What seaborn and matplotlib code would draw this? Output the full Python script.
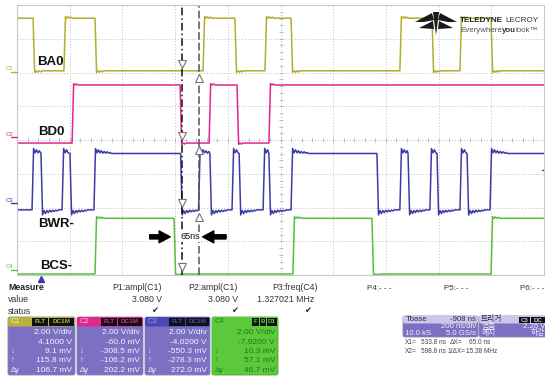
import numpy as np
import pandas as pd
import matplotlib
matplotlib.use("Agg")
import matplotlib.pyplot as plt
import seaborn as sns
from matplotlib.patches import FancyBboxPatch, Polygon, Rectangle

W, H = 545, 377
T_LEFT, T_RIGHT = -91.0, 1909.0      # ns, 200 ns/div, 10 div
NS_PER_DIV = 200.0

channels = ["C1", "C2", "C3", "C4"]
names = {"C1": "BA0", "C2": "BD0", "C3": "BWR-", "C4": "BCS-"}
colors = {"C1": "#b3ae2e", "C2": "#e0288c", "C3": "#3b3ba8", "C4": "#58bf42"}

# edge times (ns)
c1_edges = [-30, 87, 205, 615, 736, 850, 949, 1362, 1484, 1590, 1708]
c2_edges = [118, 528, 638, 744, 865]
c3_edges = [-34, 0, 80, 110, 201, 530, 598, 641, 725, 752, 843, 865,
            949, 1275, 1362, 1393, 1476, 1503, 1590, 1617, 1704]
c4_edges = [205, 505, 956, 1256, 1708]
edges = {"C1": c1_edges, "C2": c2_edges, "C3": c3_edges, "C4": c4_edges}
start_high = {"C1": True, "C2": False, "C3": False, "C4": False}
# low / high level in screen divisions (0 = bottom, 8 = top)
levels = {"C1": (6.05, 7.61), "C2": (3.91, 5.63), "C3": (1.93, 3.60), "C4": (0.03, 1.68)}
# overshoot / ringing after an edge (divisions)
ringing = {"C1": [0.05, 0.0, 0.04, 0.0, 0.03, 0.0],
           "C2": [0.04, 0.0, 0.03, 0.0],
           "C3": [0.15, 0.02, 0.11, 0.02, 0.08, 0.01, 0.06, 0.01, 0.05, 0.01, 0.03, 0.0],
           "C4": [0.05, 0.0, 0.04, 0.0, 0.03, 0.0]}

cursor_x1, cursor_x2 = 533.8, 598.8
trigger_level_c3 = 3.12

meas_names = ["P1:ampl(C1)", "P2:ampl(C1)", "P3:freq(C4)", "P4:- - -", "P5:- - -", "P6:- - -"]
meas_values = ["3.080 V", "3.080 V", "1.327021 MHz", "", "", ""]
meas_status = ["\u2714", "\u2714", "\u2714", "", "", ""]

ch_vdiv = ["2.00 V/div"] * 4
ch_offset = ["4.1000 V", "-60.0 mV", "-4.0200 V", "-7.9200 V"]
ch_min = ["9.1 mV", "-308.5 mV", "-550.3 mV", "10.3 mV"]
ch_max = ["115.8 mV", "-106.2 mV", "-278.3 mV", "57.1 mV"]
ch_dy = ["106.7 mV", "202.2 mV", "272.0 mV", "46.7 mV"]


def wave(ch, rise=6.0, ring_dt=5.5):
    bounds = [T_LEFT] + list(edges[ch]) + [T_RIGHT]
    lo, hi = levels[ch]
    ring = ringing[ch]
    state = start_high[ch]
    ts, vs = [], []
    for k in range(len(bounds) - 1):
        a, b = bounds[k], bounds[k + 1]
        lvl = hi if state else lo
        sgn = 1 if state else -1
        s = a + (rise if k > 0 else 0.0)
        if k > 0:
            for j, r in enumerate(ring):
                t = s + j * ring_dt
                if t >= b - 2:
                    break
                ts.append(t); vs.append(lvl + sgn * r)
        else:
            ts.append(s); vs.append(lvl)
        ts.append(b); vs.append(lvl)
        state = not state
    return ts, vs


frames = []
for ch in channels:
    t, v = wave(ch)
    frames.append(pd.DataFrame({"t": t, "v": v, "ch": ch}))
df = pd.concat(frames, ignore_index=True)

sns.set_style("white")
plt.rcParams["font.family"] = ["Liberation Sans", "DejaVu Sans", "Noto Sans CJK KR"]

fig = plt.figure(figsize=(W / 100, H / 100), dpi=100)
fig.patch.set_facecolor("white")
ax = fig.add_axes([17 / W, 1 - 275 / H, 527 / W, 270 / H])
ax.set_xlim(T_LEFT, T_RIGHT)
ax.set_ylim(0, 8)

# grid
xt = [T_LEFT + NS_PER_DIV * k for k in range(11)]
ax.set_xticks(xt)
ax.set_yticks(range(9))
ax.tick_params(length=0, labelbottom=False, labelleft=False)
ax.grid(True, color="#bcbcbc", ls=(0, (1, 2)), lw=0.7)
for s in ax.spines.values():
    s.set_color("#c8c8c8"); s.set_linewidth(0.8)
cx = T_LEFT + 5 * NS_PER_DIV
ax.plot([cx] * 41, [0.2 * k for k in range(41)], ls="none", marker="_", ms=3, mew=0.6, color="#b4b4b4")
ax.plot([T_LEFT + 40 * k for k in range(51)], [4] * 51, ls="none", marker="|", ms=3, mew=0.6, color="#b4b4b4")

sns.lineplot(data=df, x="t", y="v", hue="ch", palette=colors, sort=False,
             estimator=None, legend=False, lw=1.1, ax=ax)
ax.set_xlabel(""); ax.set_ylabel("")

# cursors
ax.axvline(cursor_x1, color="#111111", ls=(0, (5, 2, 1, 2)), lw=1.1)
ax.axvline(cursor_x2, color="#555555", ls=(0, (5, 2)), lw=1.1)
lows = [levels[c][0] for c in channels]
ax.plot([cursor_x1] * 4, [l + 0.2 for l in lows], ls="none", marker="v", ms=5.5,
        mfc="white", mec="#777777", mew=0.8)
ax.plot([cursor_x2] * 4, [l - 0.2 for l in lows], ls="none", marker="^", ms=5.5,
        mfc="white", mec="#777777", mew=0.8)
ax.plot([T_RIGHT - 8, T_RIGHT], [trigger_level_c3] * 2, color=colors["C3"], lw=1.0, clip_on=False)

# 65 ns annotation
arrow_style = "simple,head_length=0.8,head_width=0.85,tail_width=0.3"
ax.annotate("", xy=(501, 1.13), xytext=(402, 1.13),
            arrowprops=dict(arrowstyle=arrow_style, fc="black", ec="black", mutation_scale=10))
ax.annotate("", xy=(603, 1.13), xytext=(713, 1.13),
            arrowprops=dict(arrowstyle=arrow_style, fc="black", ec="black", mutation_scale=10))
ax.text(566, 1.13, "65ns", ha="center", va="center", fontsize=6.5, color="#111111",
        bbox=dict(fc="white", ec="none", pad=0.3), zorder=6)

# overlay in pixel coordinates
ov = fig.add_axes([0, 0, 1, 1])
ov.set_xlim(0, W); ov.set_ylim(H, 0)
ov.axis("off"); ov.patch.set_alpha(0); ov.set_zorder(5)


def txt(x, y, s, ha="left", size=6.3, color="#333333", weight="normal", family=None):
    kw = {}
    if family:
        kw["family"] = family
    return ov.text(x, y, s, ha=ha, va="center", fontsize=size, color=color, fontweight=weight, **kw)


def chain(prev, s, size, color, weight="normal", gap=0):
    return ov.annotate(s, xy=(1, 0.5), xycoords=prev, xytext=(gap, 0), textcoords="offset points",
                       ha="left", va="center", fontsize=size, color=color, fontweight=weight)


# signal labels
label_pos = {"C1": (37, 62), "C2": (38, 132), "C3": (38, 224), "C4": (40, 266)}
for ch in channels:
    x, y = label_pos[ch]
    txt(x, y, names[ch], size=9.5, color="#111111", weight="bold")
marker_y = {"C1": 72, "C2": 137, "C3": 203, "C4": 270}
for ch in channels:
    y = marker_y[ch]
    txt(6, y - 3, ch, size=4.3, color=colors[ch])
    ov.plot([11, 17], [y, y], color=colors[ch], lw=1.0)
ov.plot([41], [279], marker="^", ms=4, color=colors["C3"], ls="none")

# logo
logo = "#1a1a1a"
ov.add_patch(Polygon([(415, 22), (432, 13), (434, 20), (424, 22)], closed=True, fc=logo, ec="none"))
ov.add_patch(Polygon([(419, 28), (433, 21), (434, 29)], closed=True, fc=logo, ec="none"))
ov.add_patch(Polygon([(457, 22), (440, 13), (438, 20), (448, 22)], closed=True, fc=logo, ec="none"))
ov.add_patch(Polygon([(453, 28), (439, 21), (438, 29)], closed=True, fc=logo, ec="none"))
ov.add_patch(Polygon([(433, 12), (439, 12), (436, 35)], closed=True, fc=logo, ec="none"))
t1 = txt(460, 21, "TELEDYNE", size=5.9, color="#222222", weight="bold")
chain(t1, "LECROY", 5.9, "#333333", gap=1.5)
t2 = txt(460, 30, "Everywhere", size=5.7, color="#555555")
t3 = chain(t2, "you", 5.7, "#333333", weight="bold")
chain(t3, "look\u2122", 5.7, "#555555")

# measure table
txt(8, 288, "Measure", size=6.3, color="#222222", weight="bold")
txt(8, 300, "value", size=6.3, color="#333333")
txt(8, 311, "status", size=6.3, color="#333333")
meas_right = [162, 238, 318]
val_right = [162, 238, 314]
stat_x = [155, 235, 308]
for i in range(3):
    txt(meas_right[i], 288, meas_names[i], ha="right", size=6.3)
    txt(val_right[i], 300, meas_values[i], ha="right", size=6.3)
    txt(stat_x[i], 311, meas_status[i], ha="center", size=6.0, color="#222222", family=["DejaVu Sans"])
for i, x in zip(range(3, 6), [367, 444, 520]):
    txt(x, 288, meas_names[i], size=5.8)

# channel boxes
box_x = [(8, 75), (77, 143), (145, 210), (212, 278)]
head_col = {"C1": "#b7b23a", "C2": "#e0288c", "C3": "#4848b6", "C4": "#5cc83c"}
head_txt = {"C1": "#eeeec0", "C2": "#f6c0dc", "C3": "#9c9ce0", "C4": "#2a7a2a"}
body_col = {"C1": "#7b70c2", "C2": "#7b70c2", "C3": "#7b70c2", "C4": "#5cc83c"}
body_txt = {"C1": "#f2f2ff", "C2": "#f2f2ff", "C3": "#f2f2ff", "C4": "#1c7a1c"}
for i, ch in enumerate(channels):
    x0, x1 = box_x[i]
    ov.add_patch(FancyBboxPatch((x0, 317), x1 - x0, 58, boxstyle="round,pad=0,rounding_size=2",
                                fc=body_col[ch], ec="#8a84b0" if ch != "C4" else "#4aa830", lw=0.6))
    ov.add_patch(FancyBboxPatch((x0, 317), x1 - x0, 9.5, boxstyle="round,pad=0,rounding_size=2",
                                fc=head_col[ch], ec="none"))
    txt(x0 + 3, 321.5, ch, size=5.5, color=head_txt[ch])
    if ch != "C4":
        tags = [("FLT", x0 + 24, x0 + 40), ("DC1M", x0 + 41, x1 - 1)]
    else:
        tags = [("F", x0 + 40, x0 + 47), ("B", x0 + 47.5, x0 + 54), ("D1", x0 + 54.5, x1 - 1)]
    for lab, a, b in tags:
        ov.add_patch(Rectangle((a, 318), b - a, 7.5, fc="#111111", ec="none"))
        ov.text((a + b) / 2, 321.8, lab, ha="center", va="center", fontsize=4.6,
                color=head_col[ch], fontweight="bold")
    rows = [ch_vdiv[i], ch_offset[i], ch_min[i], ch_max[i], ch_dy[i]]
    for r, y in zip(rows, [332.5, 342, 351.5, 361, 370.5]):
        txt(x1 - 3, y, r, ha="right", size=6.0, color=body_txt[ch])
    for sym, y in zip(["\u2193", "\u2191", "\u0394y"], [351.5, 361, 370.5]):
        txt(x0 + 3, y, sym, size=5.5, color=body_txt[ch])

# timebase and trigger boxes
ov.add_patch(FancyBboxPatch((403, 316), 75, 21, boxstyle="round,pad=0,rounding_size=2",
                            fc="#7b70c2", ec="#8a84b0", lw=0.6))
ov.add_patch(FancyBboxPatch((403, 316), 75, 7.5, boxstyle="round,pad=0,rounding_size=2",
                            fc="#cbc7e6", ec="none"))
txt(406, 319.5, "Tbase", size=5.6, color="#2a2a50")
txt(476, 319.5, "-908 ns", ha="right", size=5.6, color="#2a2a50")
txt(476, 327, "200 ns/div", ha="right", size=5.6, color="#f2f2ff")
txt(405, 333.5, "10.0 kS", size=5.6, color="#f2f2ff")
txt(476, 333.5, "5.0 GS/s", ha="right", size=5.6, color="#f2f2ff")

ov.add_patch(FancyBboxPatch((479, 316), 68, 21, boxstyle="round,pad=0,rounding_size=2",
                            fc="#7b70c2", ec="#8a84b0", lw=0.6))
ov.add_patch(FancyBboxPatch((479, 316), 68, 7.5, boxstyle="round,pad=0,rounding_size=2",
                            fc="#cbc7e6", ec="none"))
txt(481, 319.5, "트리거", size=5.6, color="#2a2a50", family=["Noto Sans CJK KR"])
for lab, a, b in [("C3", 519, 530), ("DC", 531, 545)]:
    ov.add_patch(Rectangle((a, 317), b - a, 6, fc="#111111", ec="none"))
    ov.text((a + b) / 2, 320, lab, ha="center", va="center", fontsize=4.4, color="#cbc7e6", fontweight="bold")
txt(481, 327, "멈춤", size=5.6, color="#f2f2ff", family=["Noto Sans CJK KR"])
txt(545, 327, "2.26 V", ha="right", size=5.6, color="#f2f2ff")
txt(481, 333.5, "에지", size=5.6, color="#f2f2ff", family=["Noto Sans CJK KR"])
txt(545, 333.5, "하강", ha="right", size=5.6, color="#f2f2ff", family=["Noto Sans CJK KR"])

# cursor readout
rs = 4.7
rc = "#444444"
txt(405, 343, "X1=", size=rs, color=rc)
txt(446, 343, f"{cursor_x1:.1f} ns", ha="right", size=rs, color=rc)
txt(450, 343, "\u0394X=", size=rs, color=rc)
txt(490, 343, f"{cursor_x2 - cursor_x1:.1f} ns", ha="right", size=rs, color=rc)
txt(405, 351.5, "X2=", size=rs, color=rc)
txt(446, 351.5, f"{cursor_x2:.1f} ns", ha="right", size=rs, color=rc)
txt(448, 351.5, "1/\u0394X=", size=rs, color=rc)
txt(497, 351.5, f"{1000.0 / (cursor_x2 - cursor_x1):.2f} MHz", ha="right", size=rs, color=rc)

fig.savefig("out.png", dpi=100)
